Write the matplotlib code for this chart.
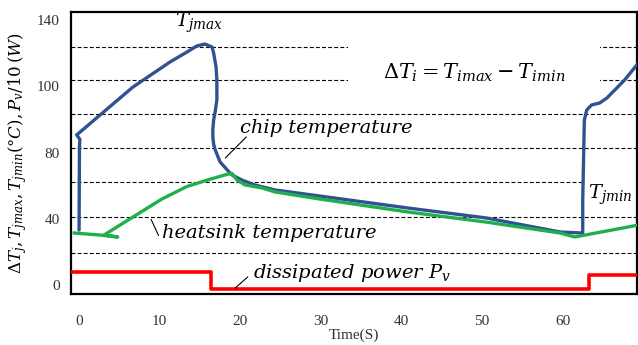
"""Junction / heatsink temperature swing under a pulsed power load."""

import matplotlib

matplotlib.use("Agg")
import matplotlib.pyplot as plt
from matplotlib.patches import Rectangle

plt.rcParams["mathtext.fontset"] = "dejavuserif"
plt.rcParams["font.family"] = ["Liberation Serif", "DejaVu Serif"]

# chip (junction) temperature, degC
chip_t = [0.0, 0.05, 0.1, -0.3, 6.7, 10.3, 11.3, 13.4, 14.6, 15.6, 16.5, 16.7, 17.0,
          17.1, 17.1, 16.9, 16.7, 16.6, 16.6, 16.7, 16.9, 17.5, 18.4, 19.0, 20.2,
          21.8, 24.3, 29.9, 40.8, 50.5, 59.7, 62.5, 62.5, 62.7, 63.0, 63.6, 64.6,
          65.5, 67.7, 69.4]
chip_T = [33.2, 83.3, 88.0, 90.6, 119.6, 131.4, 134.7, 140.7, 144.3, 145.5, 143.7,
          140.1, 131.6, 123.8, 111.7, 105.0, 99.6, 94.0, 89.4, 85.0, 81.5, 74.3,
          69.4, 66.4, 63.4, 60.4, 57.4, 53.7, 46.5, 40.5, 32.0, 31.4, 51.3, 99.6,
          105.7, 108.7, 109.9, 112.9, 123.8, 134.0]

# heatsink temperature, degC
sink_t = [-0.6, 2.5, 4.8, 3.1, 7.1, 10.3, 13.4, 16.0, 18.5, 19.0, 19.6, 20.6, 22.7,
          24.3, 29.9, 40.8, 50.5, 59.7, 61.5, 69.4]
sink_T = [31.4, 30.2, 29.0, 30.2, 42.3, 52.0, 59.5, 63.5, 67.0, 67.2, 63.4, 60.4,
          58.6, 56.2, 51.9, 44.1, 38.0, 31.4, 29.0, 36.2]

# dissipated power / 10, W
power_t = [-1.0, 16.4, 16.4, 63.3, 63.3, 69.5]
power_P = [7.85, 7.85, -2.4, -2.4, 6.0, 6.0]

xticks = [0, 10, 20, 30, 40, 50, 60]
yticks = [0, 40, 80, 120, 160]
ytick_labels = ["0", "40", "80", "100", "140"]
xgrid = [10, 20, 30, 40, 50, 60]
ygrid = [19.5, 41, 62, 83, 103.5, 123.5, 143.5]

fig = plt.figure(figsize=(6.38, 3.45), dpi=100)
ax = fig.add_axes([0.1113, 0.147, 0.8867, 0.819])

ax.plot(chip_t, chip_T, color="#2f5291", lw=2.4, zorder=3,
        solid_joinstyle="round", solid_capstyle="round")
ax.plot(sink_t, sink_T, color="#1fb04c", lw=2.4, zorder=3.2, solid_joinstyle="round")
ax.plot(power_t, power_P, color="#ff0000", lw=2.6, zorder=3)

ax.set_xlim(-1.0, 69.2)
ax.set_ylim(-5.6, 165)
ax.set_xticks(xticks)
ax.set_yticks(yticks, labels=ytick_labels)
ax.set_xticks(xgrid, minor=True)
ax.set_yticks(ygrid, minor=True)
ax.tick_params(which="both", length=0, labelsize=11, labelcolor="#333333")
ax.tick_params(axis="x", pad=15)
ax.tick_params(axis="y", pad=8)
ax.set_axisbelow(True)
ax.grid(which="minor", color="black", lw=0.8, ls=(0, (3.5, 2)))
for s in ax.spines.values():
    s.set_linewidth(1.6)

# blank area behind the formula
ax.add_patch(Rectangle((0.489, 0.723), 0.446, 0.28, transform=ax.transAxes,
                       fc="white", ec="none", zorder=1))

box = dict(boxstyle="square,pad=0.15", fc="white", ec="none")
ital = dict(family="DejaVu Serif", style="italic", fontsize=14, zorder=2.5)
ax.text(11.9, 158.2, r"$T_{jmax}$", fontsize=14, va="center")
ax.text(49.1, 128, r"$\Delta T_i = T_{imax} - T_{imin}$", fontsize=15,
        ha="center", va="center", zorder=2.5)
ax.text(20.0, 94.8, "chip temperature", va="center", bbox=box, **ital)
ax.text(10.3, 31.4, "heatsink temperature", va="center", bbox=box, **ital)
ax.text(21.6, 7.2, r"dissipated power $P_v$", va="center", **ital)
ax.text(63.2, 54.3, r"$T_{jmin}$", fontsize=14, va="center", bbox=box, zorder=2.5)

lead = dict(arrowstyle="-", lw=0.8, color="black")
ax.annotate("", xy=(17.9, 75.5), xytext=(21.0, 90.6), arrowprops=lead)
ax.annotate("", xy=(8.8, 41.1), xytext=(10.0, 28.4), arrowprops=lead)
ax.annotate("", xy=(19.1, -3.0), xytext=(21.2, 6.0), arrowprops=lead)

ax.set_xlabel("Time(S)", fontsize=11, labelpad=0, color="#333333")
ax.set_ylabel(r"$\Delta T_j, T_{jmax}, T_{jmin}(\degree C), P_v/10\,(W)$",
              fontsize=12, labelpad=6)

fig.savefig("out.png", dpi=100)
